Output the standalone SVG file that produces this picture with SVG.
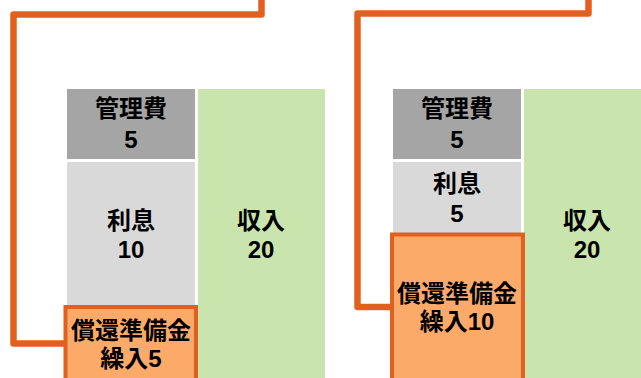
<svg xmlns="http://www.w3.org/2000/svg" width="641" height="378" viewBox="0 0 641 378">
<style>
.t{font-family:"Liberation Sans","Noto Sans CJK JP",sans-serif;font-weight:bold;font-size:24px;fill:#000;text-anchor:middle}
.mg{fill:#a5a5a5}
.ri{fill:#d9d9d9}
.in{fill:#c9e5ad}
.rs{fill:#fbaa6a;stroke:#e2601f;stroke-width:4}
.cn{fill:none;stroke:#e2601f;stroke-width:6.5;stroke-linejoin:round}
</style>
<rect width="641" height="378" fill="#fff"/>
<g id="connectors">
<polyline class="cn" points="261.5,-5 261.5,14.5 13.5,14.5 13.5,343.5 66,343.5"/>
<polyline class="cn" points="588.5,-5 588.5,13.5 357.5,13.5 357.5,307 392,307"/>
</g>
<g id="left-mgmt"><rect class="mg" x="67" y="89" width="128" height="70"/><text class="t" x="131" y="117">管理費</text><text class="t" x="131" y="148">5</text></g>
<g id="left-interest"><rect class="ri" x="67" y="162" width="128" height="216"/><text class="t" x="131" y="229">利息</text><text class="t" x="131" y="258">10</text></g>
<g id="left-income"><rect class="in" x="198" y="89" width="127" height="289"/><text class="t" x="261" y="229">収入</text><text class="t" x="261" y="258">20</text></g>
<g id="left-reserve"><rect class="rs" x="65.5" y="307" width="130.5" height="80"/><text class="t" x="131" y="339">償還準備金</text><text class="t" x="131" y="367">繰入5</text></g>
<g id="right-mgmt"><rect class="mg" x="393" y="89" width="128" height="70"/><text class="t" x="457" y="117">管理費</text><text class="t" x="457" y="148">5</text></g>
<g id="right-interest"><rect class="ri" x="393" y="162" width="128" height="72"/><text class="t" x="457" y="192">利息</text><text class="t" x="457" y="222">5</text></g>
<g id="right-income"><rect class="in" x="524" y="89" width="130" height="289"/><text class="t" x="587" y="229">収入</text><text class="t" x="587" y="258">20</text></g>
<g id="right-reserve"><rect class="rs" x="392" y="234.5" width="131" height="160"/><text class="t" x="457" y="302">償還準備金</text><text class="t" x="457" y="330">繰入10</text></g>
</svg>
